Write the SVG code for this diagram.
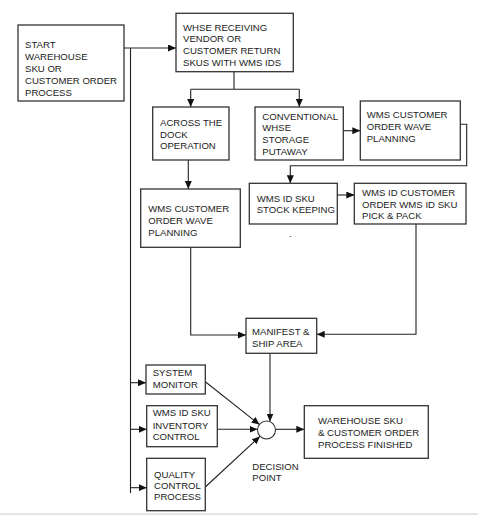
<svg xmlns="http://www.w3.org/2000/svg" width="478" height="516" viewBox="0 0 478 516">
<style>
.box{fill:#fff;stroke:#333;stroke-width:1.3}
.t{font-family:"Liberation Sans",Arial,sans-serif;font-size:9.6px;fill:#222}
.c{fill:none;stroke:#222;stroke-width:1.1}
</style>
<defs>
<marker id="a" markerUnits="userSpaceOnUse" markerWidth="8" markerHeight="7" refX="8" refY="3.5" orient="auto">
<path d="M0,0 L8,3.5 L0,7 z" fill="#111"/>
</marker>
</defs>
<rect width="478" height="516" fill="#fff"/>
<line x1="0" y1="514" x2="478" y2="514" stroke="#ccc" stroke-width="1"/>
<g id="connectors">
<line class="c" x1="124" y1="48" x2="176" y2="48" marker-end="url(#a)"/>
<line class="c" x1="130.5" y1="48" x2="130.5" y2="493"/>
<line class="c" x1="130.5" y1="382.7" x2="146" y2="382.7" marker-end="url(#a)"/>
<line class="c" x1="130.5" y1="429.3" x2="146.7" y2="429.3" marker-end="url(#a)"/>
<line class="c" x1="130.5" y1="487.7" x2="146.7" y2="487.7" marker-end="url(#a)"/>
<path class="c" d="M234,72 V89.3 M190.7,89.3 H299.3"/>
<line class="c" x1="190.7" y1="89.3" x2="190.7" y2="107" marker-end="url(#a)"/>
<line class="c" x1="299.3" y1="89.3" x2="299.3" y2="107" marker-end="url(#a)"/>
<line class="c" x1="188.3" y1="160" x2="188.3" y2="189" marker-end="url(#a)"/>
<line class="c" x1="343.3" y1="130.7" x2="360.3" y2="130.7" marker-end="url(#a)"/>
<path class="c" d="M460.3,124.3 H466.7 V165.7 H290.3 V183.3" marker-end="url(#a)"/>
<line class="c" x1="337.3" y1="195" x2="354.3" y2="195" marker-end="url(#a)"/>
<path class="c" d="M190.7,247.3 V335 H246" marker-end="url(#a)"/>
<path class="c" d="M416,224 V334.3 H316.7" marker-end="url(#a)"/>
<line class="c" x1="270" y1="353.3" x2="270" y2="421.5" marker-end="url(#a)"/>
<line class="c" x1="205.3" y1="381.7" x2="259.5" y2="424.6" marker-end="url(#a)"/>
<line class="c" x1="217.3" y1="429.3" x2="257.5" y2="429.3" marker-end="url(#a)"/>
<line class="c" x1="205.3" y1="487" x2="259.9" y2="436.4" marker-end="url(#a)"/>
<line class="c" x1="275.5" y1="429.3" x2="304.3" y2="429.3" marker-end="url(#a)"/>
</g>
<g id="start">
<rect class="box" x="18" y="25" width="106" height="76"/>
<text class="t" x="25" y="48">START</text>
<text class="t" x="25" y="60">WAREHOUSE</text>
<text class="t" x="25" y="72">SKU OR</text>
<text class="t" x="25" y="84">CUSTOMER ORDER</text>
<text class="t" x="25" y="95.5">PROCESS</text>
</g>
<g id="receiving">
<rect class="box" x="176" y="13.3" width="117.3" height="58.4"/>
<text class="t" x="183" y="30.5">WHSE RECEIVING</text>
<text class="t" x="183" y="42">VENDOR OR</text>
<text class="t" x="183" y="54">CUSTOMER RETURN</text>
<text class="t" x="183" y="66">SKUS WITH WMS IDS</text>
</g>
<g id="across">
<rect class="box" x="152.7" y="107" width="76.3" height="53"/>
<text class="t" x="160" y="126.3">ACROSS THE</text>
<text class="t" x="160" y="137.5">DOCK</text>
<text class="t" x="160" y="149">OPERATION</text>
</g>
<g id="conventional">
<rect class="box" x="255" y="107" width="88.3" height="53"/>
<text class="t" x="262.3" y="120.3">CONVENTIONAL</text>
<text class="t" x="262.3" y="131.3">WHSE</text>
<text class="t" x="262.3" y="143">STORAGE</text>
<text class="t" x="262.3" y="154.5">PUTAWAY</text>
</g>
<g id="wave-right">
<rect class="box" x="360.3" y="101" width="100" height="59"/>
<text class="t" x="366.7" y="118">WMS CUSTOMER</text>
<text class="t" x="366.7" y="130.3">ORDER WAVE</text>
<text class="t" x="366.7" y="141.7">PLANNING</text>
</g>
<g id="wave-left">
<rect class="box" x="140.7" y="189" width="99.6" height="58.3"/>
<text class="t" x="148.3" y="212">WMS CUSTOMER</text>
<text class="t" x="148.3" y="224.3">ORDER WAVE</text>
<text class="t" x="148.3" y="236">PLANNING</text>
</g>
<g id="stock">
<rect class="box" x="249.3" y="183.3" width="88" height="40.7"/>
<text class="t" x="256.7" y="202">WMS ID SKU</text>
<text class="t" x="256.7" y="213">STOCK KEEPING</text>
</g>
<text class="t" x="289" y="237" font-size="6">.</text>
<g id="pick">
<rect class="box" x="354.3" y="183.3" width="111.7" height="40.7"/>
<text class="t" x="362" y="196.3">WMS ID CUSTOMER</text>
<text class="t" x="362" y="208">ORDER WMS ID SKU</text>
<text class="t" x="362" y="218.7">PICK &amp; PACK</text>
</g>
<g id="manifest">
<rect class="box" x="246" y="318.3" width="70.7" height="35"/>
<text class="t" x="252" y="335.3">MANIFEST &amp;</text>
<text class="t" x="252" y="347">SHIP AREA</text>
</g>
<g id="monitor">
<rect class="box" x="146" y="365" width="59.3" height="29"/>
<text class="t" x="152.7" y="376.3">SYSTEM</text>
<text class="t" x="152.7" y="388">MONITOR</text>
</g>
<g id="inventory">
<rect class="box" x="146.7" y="405.7" width="70.6" height="41"/>
<text class="t" x="152.7" y="416.3">WMS ID SKU</text>
<text class="t" x="152.7" y="428.7">INVENTORY</text>
<text class="t" x="152.7" y="440.3">CONTROL</text>
</g>
<g id="quality">
<rect class="box" x="146.7" y="458.3" width="58.6" height="52.4"/>
<text class="t" x="154" y="477.6">QUALITY</text>
<text class="t" x="154" y="489.3">CONTROL</text>
<text class="t" x="154" y="500.3">PROCESS</text>
</g>
<g id="decision">
<circle cx="266.5" cy="430" r="9" fill="#fff" stroke="#333" stroke-width="1.1"/>
<text class="t" x="252.3" y="470.3">DECISION</text>
<text class="t" x="252.3" y="481">POINT</text>
</g>
<g id="finished">
<rect class="box" x="304.3" y="405.7" width="124" height="52.6"/>
<text class="t" x="318" y="424.3">WAREHOUSE SKU</text>
<text class="t" x="318" y="436">&amp; CUSTOMER ORDER</text>
<text class="t" x="318" y="448">PROCESS FINISHED</text>
</g>
</svg>
